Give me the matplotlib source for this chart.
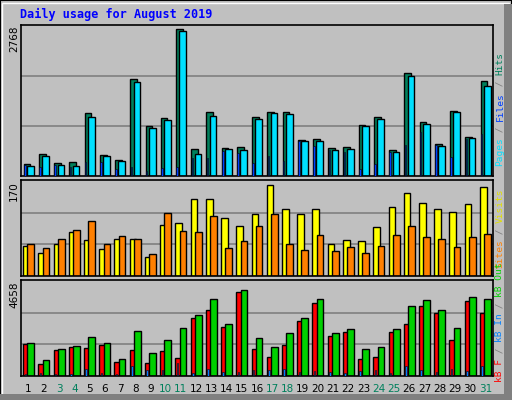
import numpy as np
import matplotlib.pyplot as plt
from matplotlib.patches import Rectangle

# ── Data ────────────────────────────────────────────────────────────────────
DAYS = list(range(1, 32))
WEEKENDS = {3, 4, 10, 11, 17, 18, 24, 25, 31}

HITS = [221, 406, 240, 258, 1163, 388, 295, 1790, 923, 1070, 2713, 498, 1181,
        517, 535, 1089, 1181, 1181, 664, 683, 517, 535, 941, 1089, 480, 1900,
        996, 590, 1200, 720, 1753]
FILES = [185, 369, 203, 185, 1089, 369, 277, 1735, 886, 1033, 2676, 406, 1107,
         498, 480, 1052, 1163, 1144, 646, 646, 480, 498, 923, 1052, 443, 1845,
         960, 554, 1181, 701, 1661]
PAGES = [203, 172, 203, 172, 258, 258, 129, 166, 92, 148, 166, 332, 332, 461,
         424, 240, 369, 277, 646, 554, 480, 443, 129, 221, 443, 572, 812, 572,
         351, 683, 775]
VISITS = [53, 41, 57, 78, 64, 48, 66, 67, 34, 92, 94, 138, 138, 103, 89, 110,
          163, 119, 110, 119, 57, 64, 62, 87, 124, 149, 131, 119, 115, 129, 159]
SITES = [57, 50, 67, 83, 99, 57, 71, 66, 39, 113, 81, 78, 108, 50, 62, 90, 110,
         57, 46, 73, 44, 51, 41, 53, 74, 89, 69, 66, 51, 69, 76]
KB_F = [1584, 606, 1258, 1444, 1351, 1537, 699, 1258, 652, 1211, 885, 2841,
        3214, 2422, 4099, 1304, 932, 1537, 2702, 3587, 1956, 2143, 838, 932,
        2143, 2562, 3447, 3074, 1770, 3680, 3074]
KB_IN = [93, 140, 93, 93, 326, 140, 93, 466, 280, 280, 652, 140, 326, 186, 186,
         280, 280, 326, 186, 233, 186, 140, 233, 280, 140, 466, 280, 186, 326,
         233, 466]
KB_OUT = [1630, 792, 1304, 1490, 1910, 1630, 838, 2189, 1118, 1770, 2376, 2981,
          3773, 2562, 4239, 1863, 1444, 2096, 2841, 3773, 2096, 2282, 1304,
          1444, 2282, 3447, 3726, 3214, 2329, 3866, 3773]
MAX_TOP, MAX_MID, MAX_BOT = 2768, 170, 4658

BG = "#C0C0C0"
C_HITS, C_FILES, C_PAGES = "#00805C", "#0040FF", "#00E0FF"
C_VISITS, C_SITES = "#FFFF00", "#FF8000"
C_KBF, C_KBIN, C_KBOUT = "#FF0000", "#0080FF", "#00D000"
TEAL = "#00805C"

W, H = 512, 400
fig = plt.figure(figsize=(W / 100, H / 100), dpi=100, facecolor=BG)

# outer bevelled frame
fig.patches.append(Rectangle((0, 0), 1, 1, transform=fig.transFigure,
                             fill=False, ec="black", lw=1.5))
fig.patches.append(Rectangle((2 / W, 2 / H), 1 - 5 / W, 1 - 5 / H,
                             transform=fig.transFigure, fill=False,
                             ec="white", lw=1))
fig.patches.append(Rectangle((W - 8, 0), 8, H - 4, transform=None,
                             fc="#808080", ec="none"))
fig.patches.append(Rectangle((0, 0), W - 4, 6, transform=None,
                             fc="#808080", ec="none"))

fig.text(20 / W, 1 - 14 / H, "Daily usage for August 2019", color="#0000FF",
         family="DejaVu Sans Mono", weight="bold", fontsize=8.5, va="center")

x = np.array(DAYS, float)


def make_ax(top, bottom, ymax):
    ax = fig.add_axes([21 / W, 1 - bottom / H, 472 / W, (bottom - top) / H])
    ax.set_facecolor(BG)
    ax.set_xlim(0.5, 31.5)
    ax.set_ylim(0, ymax * 1.01)
    for g in (ymax / 3, 2 * ymax / 3):
        ax.axhline(g, color="#808080", lw=1.2, zorder=0)
    ax.set_xticks([])
    ax.set_yticks([])
    for s in ax.spines.values():
        s.set_color("black")
        s.set_linewidth(1.2)
    return ax


kw = dict(edgecolor="black", linewidth=1.0)

ax1 = make_ax(25, 176, MAX_TOP)
ax1.bar(x - 0.1, HITS, 0.44, color=C_HITS, **kw)
ax1.bar(x + 0.12, FILES, 0.44, color=C_PAGES, **kw)
ax1.bar(x - 0.25, PAGES, 0.1, color=C_FILES, edgecolor="black",
        linewidth=0.4, zorder=3)

ax2 = make_ax(180, 276, MAX_MID)
ax2.bar(x - 0.14, VISITS, 0.44, color=C_VISITS, **kw)
ax2.bar(x + 0.14, SITES, 0.44, color=C_SITES, **kw)

ax3 = make_ax(280, 376, MAX_BOT)
ax3.bar(x - 0.14, KB_F, 0.44, color=C_KBF, **kw)
ax3.bar(x + 0.14, KB_OUT, 0.44, color=C_KBOUT, **kw)
ax3.bar(x - 0.22, KB_IN, 0.1, color=C_KBIN, edgecolor="black",
        linewidth=0.4, zorder=3)

for d in DAYS:
    px = 21 + (d - 0.5) / 31 * 472
    fig.text(px / W, 1 - 389 / H, str(d), ha="center", va="center",
             fontsize=7.5, color=TEAL if d in WEEKENDS else "black")

# left max labels
for val, top in ((MAX_TOP, 26), (MAX_MID, 181), (MAX_BOT, 281)):
    fig.text(14 / W, 1 - top / H, str(val), rotation=90, ha="center",
             va="top", fontsize=7.5)

# right multi-coloured vertical legends (read bottom to top)
FS = 6.8
CW = 0.602 * FS * 100 / 72  # monospace char advance in px


def vlabel(pieces, bottom_px):
    y = bottom_px
    for txt, col in pieces:
        fig.text(500 / W, 1 - y / H, txt, rotation=90, color=col,
                 family="DejaVu Sans Mono", fontsize=FS, ha="center",
                 va="bottom")
        y -= len(txt) * CW


sl = "#808080"
vlabel([("Pages", C_PAGES), (" / ", sl), ("Files", C_FILES), (" / ", sl),
        ("Hits", C_HITS)], 166)
vlabel([("Sites", C_SITES), (" / ", sl), ("Visits", "#E0E000")], 268)
vlabel([("kB F", C_KBF), (" / ", sl), ("kB In", C_KBIN), (" / ", sl),
        ("kB Out", C_KBOUT)], 382)

fig.savefig("out.png", dpi=100, facecolor=BG)
